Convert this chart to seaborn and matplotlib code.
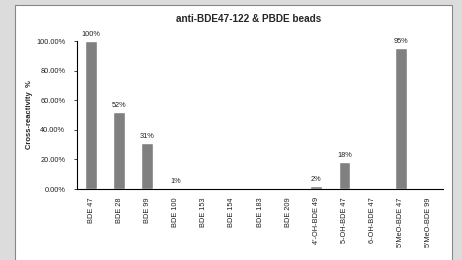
import numpy as np
import pandas as pd
import matplotlib
matplotlib.use("Agg")
import matplotlib.pyplot as plt
import seaborn as sns
from matplotlib.patches import Rectangle
from matplotlib.ticker import FuncFormatter

compounds = ["BDE 47", "BDE 28", "BDE 99", "BDE 100", "BDE 153", "BDE 154",
             "BDE 183", "BDE 209", "4'-OH-BDE 49", "5-OH-BDE 47", "6-OH-BDE 47",
             "5'MeO-BDE 47", "5'MeO-BDE 99"]
reactivity = [100, 52, 31, 1, 0, 0, 0, 0, 2, 18, 0, 95, 0.3]
bar_labels = ["100%", "52%", "31%", "1%", "", "", "", "", "2%", "18%", "", "95%", ""]

sns.set_style("white")
plt.rcParams['font.family'] = ['Liberation Sans', 'DejaVu Sans']

df = pd.DataFrame({"compound": compounds, "reactivity": reactivity})

fig = plt.figure(figsize=(4.62, 2.60), dpi=100)
fig.patch.set_facecolor("#dcdcdc")

# white slide panel behind the chart
bg = fig.add_axes([0, 0, 1, 1], zorder=-10)
bg.set_axis_off()
bg.set_xlim(0, 462)
bg.set_ylim(260, 0)
bg.add_patch(Rectangle((15, 5), 437, 280, facecolor="white",
                       edgecolor="#888888", linewidth=0.8))

ax = fig.add_axes([77 / 462, 1 - 189 / 260, (443 - 77) / 462, (189 - 41) / 260])
sns.barplot(data=df, x="compound", y="reactivity", color="#808080",
            saturation=1, width=0.42, ax=ax)
ax.set_facecolor("none")
ax.set_ylim(0, 100)
ax.set_xlim(-0.5, len(compounds) - 0.5)
ax.set_yticks(np.arange(0, 101, 20))
ax.yaxis.set_major_formatter(FuncFormatter(lambda v, p: f"{v:.2f}%"))

for i, (v, lab) in enumerate(zip(reactivity, bar_labels)):
    if lab:
        ax.text(i, v + 2, lab, ha="center", va="bottom", fontsize=5.3, color="#222222")

for s in ["top", "right"]:
    ax.spines[s].set_visible(False)
ax.spines["left"].set_linewidth(0.8)
ax.spines["bottom"].set_linewidth(0.8)
ax.spines["left"].set_color("black")
ax.spines["bottom"].set_color("black")

# Excel-like ticks between categories
ax.set_xticks(np.arange(len(compounds)))
ax.set_xticklabels(compounds, rotation=90, fontsize=5.3, color="#222222")
ax.set_xticks(np.arange(-0.5, len(compounds)), minor=True)
ax.tick_params(axis="x", which="major", length=0, pad=6)
ax.tick_params(axis="x", which="minor", length=2.5, width=0.6, direction="out")
ax.tick_params(axis="y", length=2.5, width=0.6, direction="out", labelsize=5.3,
               labelcolor="#222222", pad=6)
ax.tick_params(axis="both", bottom=True, left=True)

ax.set_xlabel("")
ax.set_ylabel("Cross-reactivity  %", fontsize=5.5, fontweight="bold", labelpad=2)
ax.set_title("anti-BDE47-122 & PBDE beads", fontsize=7.2, fontweight="bold",
             pad=14, x=0.47)

fig.savefig("out.png", dpi=100, facecolor=fig.get_facecolor())
